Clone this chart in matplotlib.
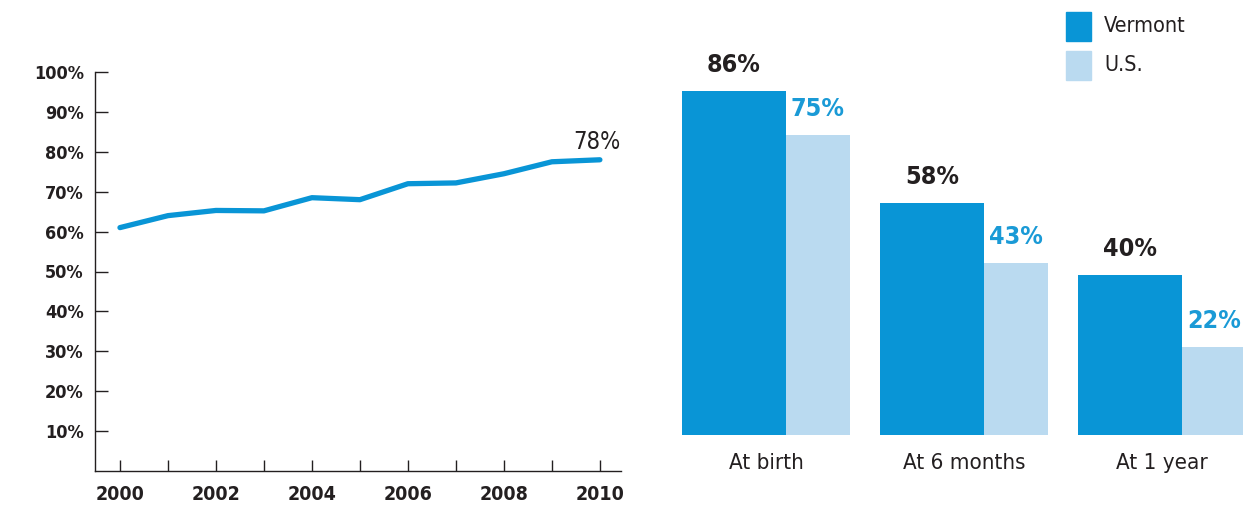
import matplotlib
matplotlib.use("Agg")
import matplotlib.pyplot as plt
from matplotlib.patches import Rectangle

# line chart data
years = [2000, 2001, 2002, 2003, 2004, 2005, 2006, 2007, 2008, 2009, 2010]
rate = [61.0, 64.0, 65.3, 65.2, 68.5, 68.0, 72.0, 72.2, 74.5, 77.5, 78.0]
year_ticks = [2000, 2002, 2004, 2006, 2008, 2010]
pct_ticks = [10, 20, 30, 40, 50, 60, 70, 80, 90, 100]

# bar chart data
stages = ["At birth", "At 6 months", "At 1 year"]
vermont = [86, 58, 40]
us = [75, 43, 22]
series_names = ["Vermont", "U.S."]

VT_BLUE = "#0995d6"
US_BLUE = "#badaf0"
LABEL_BLUE = "#1a9ad6"
DARK = "#231f20"

plt.rcParams['font.family'] = ['DejaVu Sans']
plt.rcParams['font.stretch'] = 'condensed'

W, H = 1243, 509
fig = plt.figure(figsize=(W / 100, H / 100), dpi=100)

def px_axes(x0, y0, x1, y1):
    return fig.add_axes([x0 / W, 1 - y1 / H, (x1 - x0) / W, (y1 - y0) / H])

# --- left: line chart
ax = px_axes(95, 72, 621, 471)
ax.plot(years, rate, color=VT_BLUE, lw=3.8, solid_capstyle='round', solid_joinstyle='round')
ax.set_xlim(1999.48, 2010.44)
ax.set_ylim(0, 100)
for s in ['top', 'right']:
    ax.spines[s].set_visible(False)
for s in ['left', 'bottom']:
    ax.spines[s].set_color(DARK)
    ax.spines[s].set_linewidth(1.0)
ax.set_yticks(pct_ticks)
ax.set_yticklabels([f"{v}%" for v in pct_ticks], fontsize=13, fontweight='bold', color=DARK)
ax.set_xticks(years)
ax.set_xticklabels([str(y) if y in year_ticks else "" for y in years],
                   fontsize=14, fontweight='bold', color=DARK)
ax.tick_params(axis='y', direction='in', length=9, width=1, color=DARK, pad=8)
ax.tick_params(axis='x', direction='in', length=8, width=1, color=DARK, pad=10)
ax.annotate(f"{rate[-1]:.0f}%", xy=(years[-1], rate[-1]), xytext=(-2, 4),
            textcoords='offset points', ha='center', va='bottom', fontsize=17, color=DARK)

# --- right: grouped bars
bx = px_axes(682, 35, 1243, 435)
vt_w, us_w = 0.525, 0.323
pos = list(range(len(stages)))
bx.bar(pos, vermont, width=vt_w, align='edge', color=VT_BLUE)
bx.bar([p + vt_w for p in pos], us, width=us_w, align='edge', color=US_BLUE)
bx.set_xlim(0, (1243 - 682) / 198)
bx.set_ylim(0, 100)
bx.axis('off')
for p, v in zip(pos, vermont):
    bx.annotate(f"{v}%", xy=(p + vt_w / 2, v), xytext=(0, 19), textcoords='offset points',
                ha='center', va='center', fontsize=18, fontweight='bold', color=DARK)
for p, v in zip(pos, us):
    bx.annotate(f"{v}%", xy=(p + vt_w + us_w / 2, v), xytext=(0, 19), textcoords='offset points',
                ha='center', va='center', fontsize=18, fontweight='bold', color=LABEL_BLUE)
for p, name in zip(pos, stages):
    bx.text(p + (vt_w + us_w) / 2, -7, name, ha='center', va='center',
            fontsize=16, color=DARK, transform=bx.transData, clip_on=False)

# legend drawn in figure pixels
for i, (name, col) in enumerate(zip(series_names, [VT_BLUE, US_BLUE])):
    y0 = 12 + i * 39
    fig.patches.append(Rectangle((1066 / W, 1 - (y0 + 29) / H), 25 / W, 29 / H,
                                 transform=fig.transFigure, color=col))
    fig.text(1104 / W, 1 - (y0 + 14) / H, name, ha='left', va='center',
             fontsize=15.5, color=DARK)

fig.savefig("out.png", dpi=100)
